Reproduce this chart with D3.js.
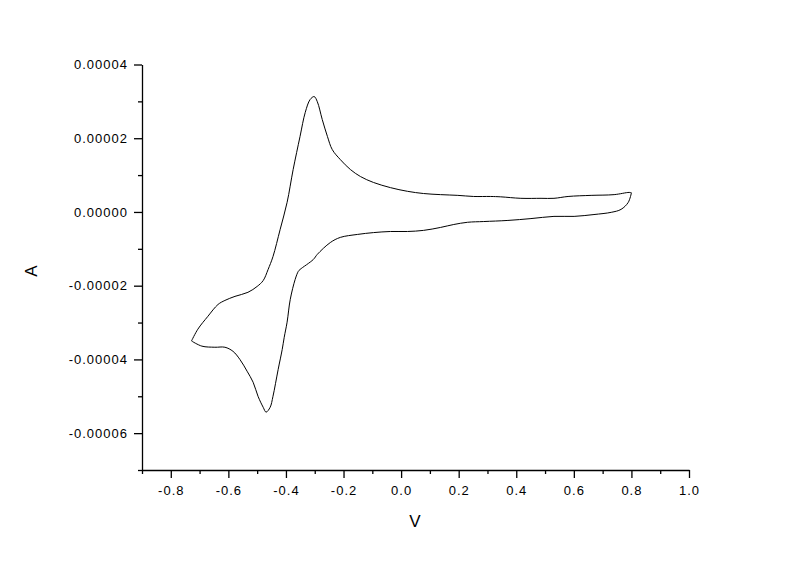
<!DOCTYPE html>
<html>
<head>
<meta charset="utf-8">
<script src="https://cdn.jsdelivr.net/npm/d3@7"></script>
<style>
  body { margin: 0; background: #fff; }
  svg { display: block; }
</style>
</head>
<body>
<div id="chart"></div>
<script>
// Cyclic voltammogram

// forward scan: -0.73 V -> 0.80 V
const forwardV = [-0.728, -0.706, -0.671, -0.636, -0.612, -0.577, -0.532, -0.500, -0.479, -0.462,
  -0.445, -0.420, -0.396, -0.375, -0.351, -0.333, -0.316, -0.302, -0.291, -0.274,
  -0.256, -0.239, -0.211, -0.176, -0.141, -0.096, -0.037, 0.022, 0.078, 0.137,
  0.197, 0.252, 0.311, 0.346, 0.416, 0.486, 0.531, 0.580, 0.660, 0.740, 0.792, 0.800];
const forwardA = [-3.50e-5, -3.18e-5, -2.83e-5, -2.51e-5, -2.40e-5, -2.29e-5, -2.18e-5, -2.02e-5, -1.86e-5, -1.56e-5,
  -1.21e-5, -4.7e-6, 2.6e-6, 1.15e-5, 2.05e-5, 2.70e-5, 3.05e-5, 3.13e-5, 2.99e-5, 2.51e-5,
  2.05e-5, 1.69e-5, 1.42e-5, 1.15e-5, 9.6e-6, 8.0e-6, 6.6e-6, 5.6e-6, 5.0e-6, 4.7e-6,
  4.5e-6, 4.2e-6, 4.2e-6, 4.1e-6, 3.7e-6, 3.7e-6, 3.7e-6, 4.2e-6, 4.5e-6, 4.7e-6, 5.3e-6, 5.2e-6];

// reverse scan: 0.80 V -> -0.73 V
const reverseV = [0.800, 0.789, 0.764, 0.730, 0.670, 0.601, 0.531, 0.451, 0.371, 0.287,
  0.231, 0.183, 0.137, 0.078, 0.022, -0.037, -0.096, -0.152, -0.211, -0.246,
  -0.291, -0.305, -0.351, -0.357, -0.368, -0.385, -0.396, -0.406, -0.413, -0.427,
  -0.445, -0.455, -0.469, -0.479, -0.497, -0.514, -0.535, -0.560, -0.584, -0.612,
  -0.647, -0.692, -0.728];
const reverseA = [5.2e-6, 2.6e-6, 7e-7, -1e-7, -7e-7, -1.2e-6, -1.2e-6, -1.8e-6, -2.3e-6, -2.6e-6,
  -2.8e-6, -3.4e-6, -4.2e-6, -5.0e-6, -5.3e-6, -5.3e-6, -5.6e-6, -6.1e-6, -6.9e-6, -8.3e-6,
  -1.15e-5, -1.29e-5, -1.56e-5, -1.61e-5, -1.83e-5, -2.37e-5, -2.99e-5, -3.40e-5, -3.73e-5, -4.27e-5,
  -5.00e-5, -5.30e-5, -5.43e-5, -5.30e-5, -5.00e-5, -4.62e-5, -4.32e-5, -4.00e-5, -3.78e-5, -3.67e-5,
  -3.67e-5, -3.64e-5, -3.50e-5];

const xMajor = [-0.8, -0.6, -0.4, -0.2, 0.0, 0.2, 0.4, 0.6, 0.8, 1.0];
const xMinor = [-0.9, -0.7, -0.5, -0.3, -0.1, 0.1, 0.3, 0.5, 0.7, 0.9];
const yMajor = [-0.00006, -0.00004, -0.00002, 0.00000, 0.00002, 0.00004];
const yMinor = [-0.00007, -0.00005, -0.00003, -0.00001, 0.00001, 0.00003];

const width = 800, height = 565;
const margin = { top: 64.5, right: 111, bottom: 95, left: 142 };

const svg = d3.select('#chart')
  .append('svg')
  .attr('width', width)
  .attr('height', height)
  .style('font-family', 'Arial, "Liberation Sans", sans-serif');

const x = d3.scaleLinear()
  .domain([-0.9, 1.0])
  .range([margin.left, width - margin.right]);

const y = d3.scaleLinear()
  .domain([-0.00007, 0.00004])
  .range([height - margin.bottom, margin.top]);

// minor ticks first, then major ticks with labels
svg.append('g')
  .attr('transform', `translate(0,${y(-0.00007)})`)
  .call(d3.axisBottom(x).tickValues(xMinor).tickSize(4).tickFormat(''))
  .call(g => g.select('.domain').remove());

svg.append('g')
  .attr('transform', `translate(${x(-0.9)},0)`)
  .call(d3.axisLeft(y).tickValues(yMinor).tickSize(4).tickFormat(''))
  .call(g => g.select('.domain').remove());

const xAxis = svg.append('g')
  .attr('transform', `translate(0,${y(-0.00007)})`)
  .call(d3.axisBottom(x).tickValues(xMajor).tickSize(8).tickPadding(8).tickSizeOuter(0)
    .tickFormat(d3.format('.1f')));

const yAxis = svg.append('g')
  .attr('transform', `translate(${x(-0.9)},0)`)
  .call(d3.axisLeft(y).tickValues(yMajor).tickSize(8).tickPadding(6).tickSizeOuter(0)
    .tickFormat(d => d3.format('.5f')(d).replace('−', '-')));

xAxis.selectAll('text').text(d => d3.format('.1f')(d).replace('−', '-'));

svg.selectAll('.tick line, .domain')
  .attr('stroke', '#000')
  .attr('stroke-width', 1.3);

svg.selectAll('.tick text')
  .attr('fill', '#000')
  .attr('font-size', 13)
  .attr('letter-spacing', '1px');

// axis titles
svg.append('text')
  .attr('x', 415)
  .attr('y', 527)
  .attr('text-anchor', 'middle')
  .attr('font-size', 17)
  .text('V');

svg.append('text')
  .attr('transform', 'translate(37,271) rotate(-90)')
  .attr('text-anchor', 'middle')
  .attr('font-size', 17)
  .text('A');

// curve
const line = d3.line()
  .x(d => x(d[0]))
  .y(d => y(d[1]))
  .curve(d3.curveCatmullRom.alpha(0.5));

const forward = forwardV.map((v, i) => [v, forwardA[i]]);
const reverse = reverseV.map((v, i) => [v, reverseA[i]]);

svg.append('path')
  .datum(forward)
  .attr('fill', 'none')
  .attr('stroke', '#000')
  .attr('stroke-width', 1)
  .attr('d', line);

svg.append('path')
  .datum(reverse)
  .attr('fill', 'none')
  .attr('stroke', '#000')
  .attr('stroke-width', 1)
  .attr('d', line);
</script>
</body>
</html>
